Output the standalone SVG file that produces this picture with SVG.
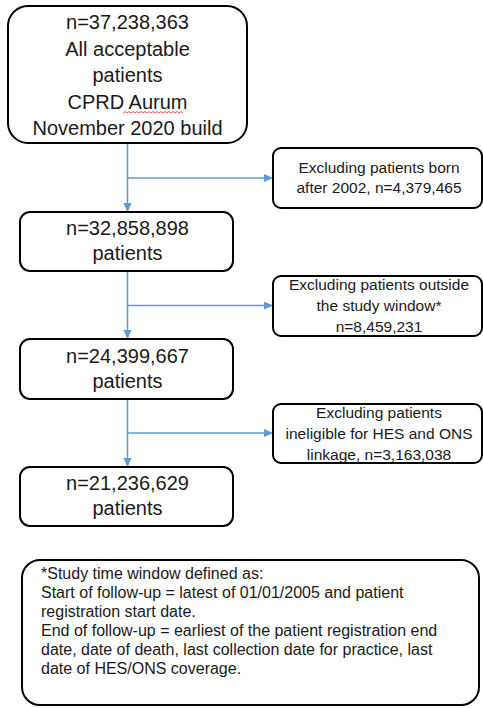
<svg xmlns="http://www.w3.org/2000/svg" width="483" height="708" viewBox="0 0 483 708">
<style>
  .box { fill: #ffffff; stroke: #000000; stroke-width: 2; }
  .big { font-family: "Liberation Sans", Arial, sans-serif; font-size: 20px; fill: #1a1a1a; text-anchor: middle; }
  .mid { font-family: "Liberation Sans", Arial, sans-serif; font-size: 15.5px; fill: #1a1a1a; text-anchor: middle; }
  .note { font-family: "Liberation Sans", Arial, sans-serif; font-size: 16px; fill: #1a1a1a; }
  .conn { fill: none; stroke: #5B9BD5; stroke-width: 1.5; marker-end: url(#arrow); }
</style>
<defs>
  <marker id="arrow" markerUnits="userSpaceOnUse" markerWidth="10" markerHeight="9" refX="9" refY="4" orient="auto">
    <path d="M0,0 L9,4 L0,8 z" fill="#5B9BD5"/>
  </marker>
</defs>
<rect width="483" height="708" fill="#ffffff"/>
<g id="connectors">
  <path class="conn" d="M127.5,143 V212"/>
  <path class="conn" d="M127.5,178 H273"/>
  <path class="conn" d="M127.5,271 V339"/>
  <path class="conn" d="M127.5,305.5 H273"/>
  <path class="conn" d="M127.5,399 V467"/>
  <path class="conn" d="M127.5,433 H273"/>
</g>
<g id="node-all">
  <rect class="box" x="8" y="6" width="239" height="137" rx="20"/>
  <text class="big" x="127.5" y="29">n=37,238,363</text>
  <text class="big" x="127.5" y="55.5">All acceptable</text>
  <text class="big" x="127.5" y="82">patients</text>
  <text class="big" x="127.5" y="108.5">CPRD Aurum</text>
  <text class="big" x="127.5" y="135">November 2020 build</text>
  <path d="M123,113 l2,-1.5 l2,1.5 l2,-1.5 l2,1.5 l2,-1.5 l2,1.5 l2,-1.5 l2,1.5 l2,-1.5 l2,1.5 l2,-1.5 l2,1.5 l2,-1.5 l2,1.5 l2,-1.5 l2,1.5 l2,-1.5 l2,1.5 l2,-1.5 l2,1.5 l2,-1.5 l2,1.5 l2,-1.5 l2,1.5 l2,-1.5 l2,1.5 l2,-1.5 l2,1.5 l2,-1.5 l2,1.5" fill="none" stroke="#e03030" stroke-width="0.8"/>
</g>
<g id="node-excl-born">
  <rect class="box" x="273" y="148" width="209" height="60" rx="8"/>
  <text class="mid" x="379" y="173">Excluding patients born</text>
  <text class="mid" x="379" y="193">after 2002, n=4,379,465</text>
</g>
<g id="node-n2">
  <rect class="box" x="20" y="212" width="213" height="59" rx="10"/>
  <text class="big" x="127.5" y="235">n=32,858,898</text>
  <text class="big" x="127.5" y="260">patients</text>
</g>
<g id="node-excl-window">
  <rect class="box" x="273" y="276" width="209" height="60" rx="8"/>
  <text class="mid" x="379" y="290">Excluding patients outside</text>
  <text class="mid" x="379" y="311">the study window*</text>
  <text class="mid" x="379" y="332">n=8,459,231</text>
</g>
<g id="node-n3">
  <rect class="box" x="20" y="339" width="213" height="60" rx="10"/>
  <text class="big" x="127.5" y="363">n=24,399,667</text>
  <text class="big" x="127.5" y="388">patients</text>
</g>
<g id="node-excl-linkage">
  <rect class="box" x="273" y="404" width="209" height="59" rx="8"/>
  <text class="mid" x="379" y="418">Excluding patients</text>
  <text class="mid" x="379" y="439">ineligible for HES and ONS</text>
  <text class="mid" x="379" y="460">linkage, n=3,163,038</text>
</g>
<g id="node-n4">
  <rect class="box" x="20" y="467" width="213" height="59" rx="10"/>
  <text class="big" x="127.5" y="490">n=21,236,629</text>
  <text class="big" x="127.5" y="515">patients</text>
</g>
<g id="node-footnote">
  <rect class="box" x="22" y="560" width="457" height="145" rx="18"/>
  <text class="note" x="41" y="579">*Study time window defined as:</text>
  <text class="note" x="41" y="598">Start of follow-up = latest of 01/01/2005 and patient</text>
  <text class="note" x="41" y="617">registration start date.</text>
  <text class="note" x="41" y="636">End of follow-up = earliest of the patient registration end</text>
  <text class="note" x="41" y="655">date, date of death, last collection date for practice, last</text>
  <text class="note" x="41" y="674">date of HES/ONS coverage.</text>
</g>
</svg>
